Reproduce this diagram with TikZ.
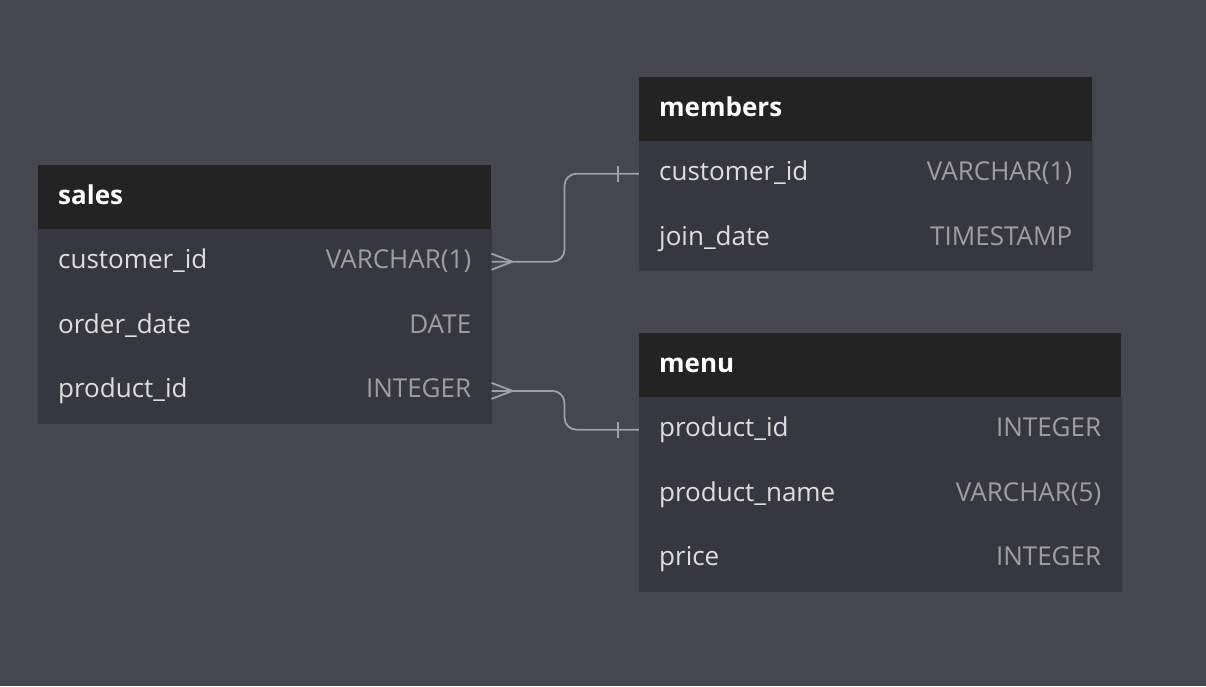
\documentclass[tikz,border=0pt]{standalone}
\usepackage{fontspec}
\setmainfont{Open Sans}
\usetikzlibrary{positioning}
\definecolor{canvas}{RGB}{70,70,78}
\definecolor{headbg}{RGB}{35,35,35}
\definecolor{rowbg}{RGB}{55,55,63}
\definecolor{fieldtxt}{RGB}{222,222,222}
\definecolor{typetxt}{RGB}{158,158,162}
\definecolor{linkc}{RGB}{160,160,168}
\tikzstyle{hd} = [rectangle, fill=headbg, text=white, anchor=north west,
    font=\fontsize{26}{31}\selectfont\bfseries, text width=413pt, align=left,
    inner xsep=20pt, inner ysep=0pt, minimum height=64pt, text height=19pt, text depth=5pt]
\tikzstyle{row} = [hd, fill=rowbg, draw=rowbg, line width=0.6pt, text=fieldtxt,
    font=\fontsize{26}{31}\selectfont]
\tikzstyle{link} = [draw=linkc, line width=1.8pt]
\newcommand{\ty}[1]{\hfill{\color{typetxt}#1}}
\newcommand{\crowfoot}[1]{\draw[link] ([yshift=8pt]#1) -- ([xshift=21pt]#1) -- ([yshift=-8pt]#1);}
\newcommand{\onebar}[1]{\draw[link] ([xshift=-21pt,yshift=8pt]#1) -- ([xshift=-21pt,yshift=-8pt]#1);}

\begin{document}
\begin{tikzpicture}[x=1pt,y=-1pt]
  \fill[canvas] (0,0) rectangle (1206,686);

  % sales
  \node[hd] (sal) at (38,165) {sales};
  \node[row] (salc) [below=0pt of sal]  {customer\_id\ty{VARCHAR(1)}};
  \node[row] (salo) [below=0pt of salc] {order\_date\ty{DATE}};
  \node[row] (salp) [below=0pt of salo] {product\_id\ty{INTEGER}};

  % members
  \node[hd] (mem) at (639,77) {members};
  \node[row] (memc) [below=0pt of mem]  {customer\_id\ty{VARCHAR(1)}};
  \node[row] (memj) [below=0pt of memc] {join\_date\ty{TIMESTAMP}};

  % menu
  \node[hd,text width=442pt] (mnu) at (639,333) {menu};
  \node[row,text width=442pt] (mnup) [below=0pt of mnu]  {product\_id\ty{INTEGER}};
  \node[row,text width=442pt] (mnun) [below=0pt of mnup] {product\_name\ty{VARCHAR(5)}};
  \node[row,text width=442pt] (mnupr) [below=0pt of mnun] {price\ty{INTEGER}};

  \draw[link,rounded corners=12pt] (salc.east) -- ++(73,0) |- (memc.west);
  \draw[link,rounded corners=12pt] (salp.east) -- ++(73,0) |- (mnup.west);
  \crowfoot{salc.east}
  \crowfoot{salp.east}
  \onebar{memc.west}
  \onebar{mnup.west}
\end{tikzpicture}
\end{document}
